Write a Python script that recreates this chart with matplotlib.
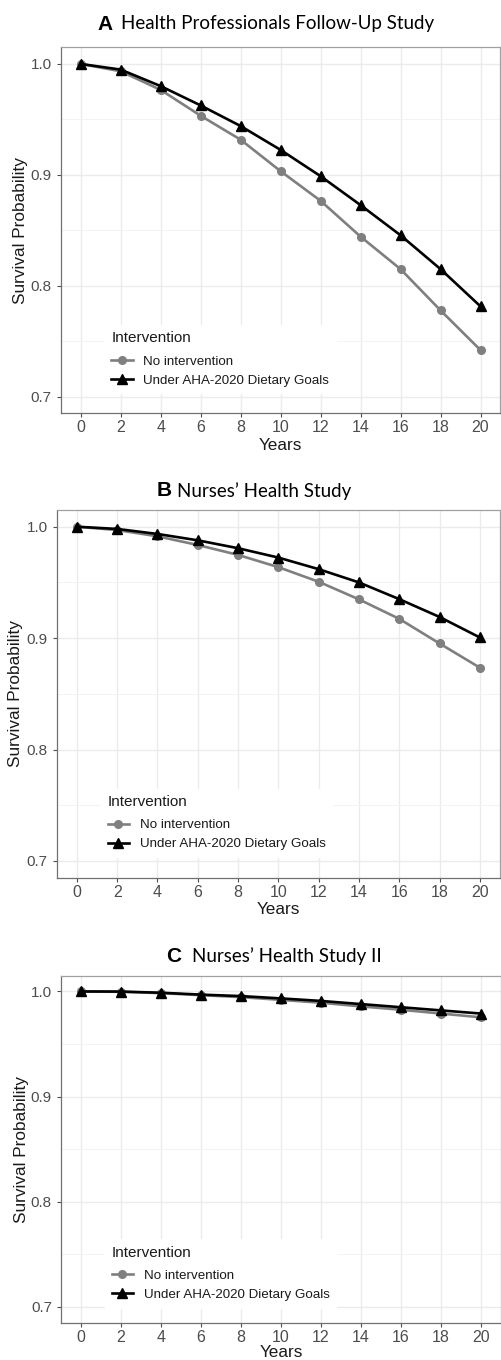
import matplotlib
matplotlib.use("Agg")
import matplotlib.pyplot as plt
from matplotlib.lines import Line2D

plt.rcParams["font.family"] = ["Liberation Sans", "DejaVu Sans"]

years = [0, 2, 4, 6, 8, 10, 12, 14, 16, 18, 20]

hpfs_none = [1.0, 0.9934, 0.9766, 0.9533, 0.9317, 0.9033, 0.8766, 0.8443, 0.8150, 0.7778, 0.7420]
hpfs_aha = [1.0, 0.9949, 0.9800, 0.9626, 0.9440, 0.9225, 0.8988, 0.8727, 0.8455, 0.8150, 0.7814]

nhs_none = [1.0, 0.9970, 0.9914, 0.9836, 0.9747, 0.9637, 0.9506, 0.9348, 0.9173, 0.8952, 0.8735]
nhs_aha = [1.0, 0.9980, 0.9935, 0.9878, 0.9807, 0.9723, 0.9619, 0.9500, 0.9350, 0.9190, 0.9006]

nhs2_none = [1.0, 0.9997, 0.9984, 0.9965, 0.9946, 0.9920, 0.9893, 0.9858, 0.9826, 0.9790, 0.9754]
nhs2_aha = [1.0, 0.9999, 0.9988, 0.9970, 0.9956, 0.9934, 0.9910, 0.9880, 0.9850, 0.9820, 0.9790]

letters = ["A", "B", "C"]
titles = ["Health Professionals Follow-Up Study", "Nurses\u2019 Health Study", "Nurses\u2019 Health Study II"]
series_labels = ["No intervention", "Under AHA-2020 Dietary Goals"]
legend_title = "Intervention"
y_ticks = [0.7, 0.8, 0.9, 1.0]
y_minor = [0.75, 0.85, 0.95]

W, H = 502, 1360
fig = plt.figure(figsize=(W / 100, H / 100), dpi=100)

# axes rects in pixels: left, top, right, bottom
rects = [(60.7, 47.3, 500.5, 413.3), (56.7, 510, 500, 877.7), (61, 975.7, 501, 1322.7)]
title_y = [24, 490.7, 956]
letter_right = [113, 171.7, 181.7]
rest_left = [120.7, 176.7, 191.7]
ylabel_x = [20.7, 16, 21.7]
xlabel_y = [445, 910, 1352.7]
data = [(hpfs_none, hpfs_aha), (nhs_none, nhs_aha), (nhs2_none, nhs2_aha)]

GRAY = "#7f7f7f"
TICKC = "#4d4d4d"
GRID = "#ebebeb"
TXT = "#1a1a1a"

for i, (l, t, r, b) in enumerate(rects):
    ax = fig.add_axes([l / W, 1 - b / H, (r - l) / W, (b - t) / H])
    none, aha = data[i]
    ax.set_xlim(-1, 21)
    ax.set_ylim(0.685, 1.015)
    ax.set_xticks(years)
    ax.set_yticks(y_ticks)
    ax.set_yticks(y_minor, minor=True)
    ax.grid(True, which="major", color=GRID, lw=1.0, zorder=0)
    ax.grid(True, which="minor", axis="y", color="#f3f3f3", lw=0.7, zorder=0)
    ax.set_axisbelow(True)
    ax.plot(years, none, color=GRAY, lw=1.9, marker="o", ms=5.5, zorder=3)
    ax.plot(years, aha, color="black", lw=1.9, marker="^", ms=6.5, zorder=4)
    for name, s in ax.spines.items():
        s.set_color("#707070" if name in ("left", "bottom") else "#a0a0a0")
        s.set_linewidth(0.9)
    ax.tick_params(axis="both", which="major", colors=TICKC, length=3, width=0.8)
    ax.tick_params(axis="x", labelsize=11.5, pad=2)
    ax.tick_params(axis="y", labelsize=11)
    ax.tick_params(axis="y", which="minor", length=0)
    ax.set_yticklabels([f"{v:.1f}" for v in y_ticks])
    ax.set_xlabel("Years", fontsize=12.3, color=TXT, va="center")
    ax.set_ylabel("Survival Probability", fontsize=12.4, color=TXT, va="center")
    ax.xaxis.set_label_coords(0.5, (b - xlabel_y[i]) / (b - t))
    ax.yaxis.set_label_coords((ylabel_x[i] - l) / (r - l), 0.5)

    handles = [Line2D([], [], color=GRAY, lw=1.9, marker="o", ms=5.5),
               Line2D([], [], color="black", lw=1.9, marker="^", ms=6.5)]
    leg = ax.legend(handles, series_labels, title=legend_title, loc="upper left",
                    bbox_to_anchor=(0.085, 0.26), frameon=True, fancybox=False,
                    edgecolor="white", facecolor="white", framealpha=1.0,
                    fontsize=9.6, title_fontsize=11, handlelength=1.6,
                    handletextpad=0.8, labelspacing=0.5, borderpad=0.5)
    leg._legend_box.align = "left"
    leg._legend_box.sep = 7
    leg.get_title().set_color(TXT)
    for txt in leg.get_texts():
        txt.set_color(TXT)
    leg.set_zorder(5)

    fig.text(letter_right[i] / W, 1 - title_y[i] / H, letters[i], ha="right", va="center",
             fontsize=15, fontweight="bold", family="Liberation Sans")
    fig.text(rest_left[i] / W, 1 - title_y[i] / H, titles[i], ha="left", va="center",
             fontsize=13.5, family="Lato")

fig.savefig("out.png", dpi=100)
